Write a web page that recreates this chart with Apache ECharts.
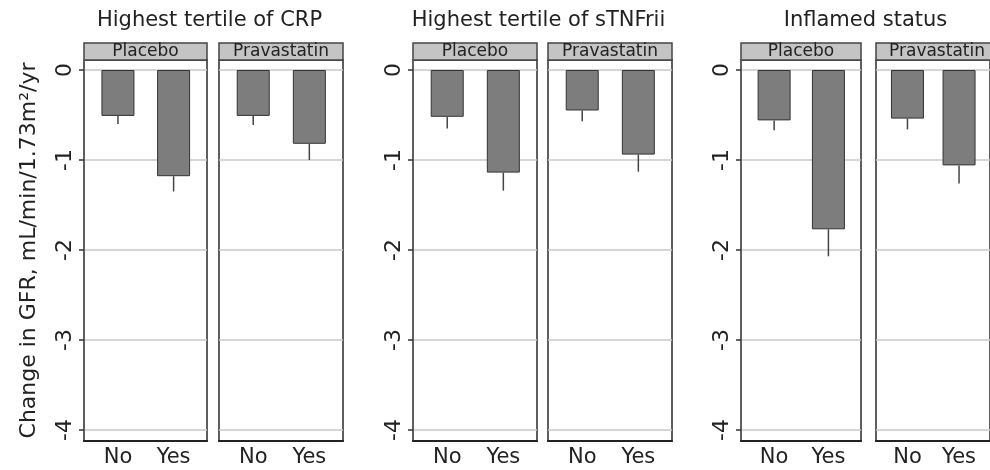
<!DOCTYPE html>
<html>
<head>
<meta charset="utf-8">
<script src="https://cdn.jsdelivr.net/npm/echarts@6/dist/echarts.min.js"></script>
<style>
  html, body { margin: 0; padding: 0; background: #fff; }
  #ech { width: 990px; height: 470px; }
</style>
</head>
<body>
<div id="ech"></div>
<script>
// data
var groupTitles = ['Highest tertile of CRP', 'Highest tertile of sTNFrii', 'Inflamed status'];
var armNames = ['Placebo', 'Pravastatin'];
var categories = ['No', 'Yes'];
// mean change per panel (placebo/prava for each group), [No, Yes]
var meanChange = [
    [-0.51, -1.18], [-0.51, -0.82],
    [-0.52, -1.14], [-0.45, -0.94],
    [-0.56, -1.77], [-0.54, -1.06]
];
// lower end of the error bar
var errLow = [
    [-0.60, -1.35], [-0.61, -1.00],
    [-0.65, -1.34], [-0.57, -1.13],
    [-0.67, -2.07], [-0.66, -1.26]
];
var yTicks = [0, -1, -2, -3, -4];
var yTitle = 'Change in GFR, mL/min/1.73m\u00b2/yr';

// layout (pixels)
var panelLeft = [84, 219, 413, 548, 741, 876];
var panelWidth = [123, 124, 124, 124, 120, 122];
var plotTop = 60, plotHeight = 381;
var font = '"DejaVu Sans", sans-serif';

var ownChart = echarts.init(document.getElementById('ech'));

var grids = [], xAxes = [], yAxes = [], series = [], titles = [], graphics = [];

panelLeft.forEach(function (left, i) {
    var first = i % 2 === 0;
    grids.push({
        left: left, top: plotTop, width: panelWidth[i], height: plotHeight,
        show: true, backgroundColor: '#fff', borderColor: '#5f5f5f', borderWidth: 2
    });
    xAxes.push({
        type: 'value', gridIndex: i, min: -0.61, max: 1.6,
        axisLine: { show: true, onZero: false, lineStyle: { color: '#222', width: 2 } },
        axisTick: { show: false },
        splitLine: { show: false },
        axisLabel: {
            customValues: [0, 1], margin: 6,
            fontSize: 21, fontFamily: font, color: '#222',
            formatter: function (v) { return categories[Math.round(v)]; }
        }
    });
    yAxes.push({
        type: 'value', gridIndex: i, min: -4.122, max: 0.111,
        name: i === 0 ? yTitle : '',
        nameLocation: 'middle', nameGap: 44,
        nameTextStyle: { fontSize: 22, fontFamily: font, color: '#222' },
        axisLine: { show: first, onZero: false, lineStyle: { color: '#5f5f5f', width: 2 } },
        axisTick: { show: first, customValues: yTicks, length: 5, lineStyle: { color: '#333', width: 1.5 } },
        axisLabel: {
            show: first, customValues: yTicks, rotate: 90, margin: 8,
            fontSize: 22, fontFamily: font, color: '#222'
        },
        splitLine: { show: true, lineStyle: { color: '#c8c8c8', width: 1.5 } }
    });
    series.push({
        type: 'bar', xAxisIndex: i, yAxisIndex: i, barWidth: 33,
        itemStyle: { color: '#7d7d7d', borderColor: '#333', borderWidth: 1 },
        data: meanChange[i].map(function (v, j) { return [j, v]; })
    });
    // error bars, lower side only
    series.push({
        type: 'custom', xAxisIndex: i, yAxisIndex: i, z: 3,
        renderItem: function (params, api) {
            var a = api.coord([api.value(0), api.value(1)]);
            var b = api.coord([api.value(0), api.value(2)]);
            return {
                type: 'line',
                shape: { x1: a[0], y1: a[1], x2: b[0], y2: b[1] },
                style: { stroke: '#444', lineWidth: 1.5 }
            };
        },
        encode: { x: 0, y: [1, 2] },
        data: meanChange[i].map(function (v, j) { return [j, v, errLow[i][j]]; })
    });
    // strip header
    graphics.push({
        type: 'rect',
        shape: { x: left, y: 43, width: panelWidth[i], height: 17 },
        style: { fill: '#c4c4c4', stroke: '#444', lineWidth: 1.5 }
    });
    graphics.push({
        type: 'text', x: left + panelWidth[i] / 2, y: 51.5,
        style: {
            text: armNames[i % 2], align: 'center', verticalAlign: 'middle',
            font: '17px ' + font, fill: '#222'
        }
    });
});

groupTitles.forEach(function (t, g) {
    var l = panelLeft[2 * g], r = panelLeft[2 * g + 1] + panelWidth[2 * g + 1];
    titles.push({
        text: t, left: (l + r) / 2 - 4, top: 10, padding: 0, textAlign: 'center',
        textStyle: { fontSize: 21, fontWeight: 'normal', fontFamily: font, color: '#222' }
    });
});

var option = {
    animation: false,
    backgroundColor: '#fff',
    title: titles,
    grid: grids,
    xAxis: xAxes,
    yAxis: yAxes,
    series: series,
    graphic: graphics
};
ownChart.setOption(option);
</script>
</body>
</html>
